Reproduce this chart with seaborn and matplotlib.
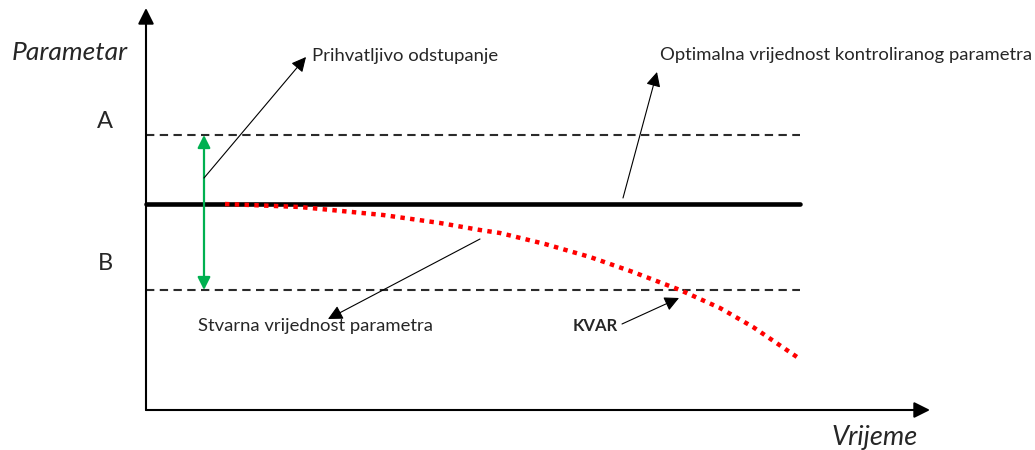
import numpy as np
import pandas as pd
import matplotlib
matplotlib.use("Agg")
import matplotlib.pyplot as plt
import seaborn as sns

# diagram data (pixel-like units, y grows downward)
origin = (146, 410)
x_end = 930
y_top = 8
level_a = 135
level_opt = 204
level_b = 290
line_end = 800

# real parameter value drifting away from optimum
curve_t = [225, 300, 383, 440, 480, 500, 545, 590, 633, 680, 720, 753, 797]
curve_v = [204, 207, 215, 223, 230, 233, 244, 257, 272, 290, 308, 327, 357]

label_font = ["Lato", "DejaVu Sans"]

sns.set_style("white")
plt.rcParams["font.family"] = label_font

fig = plt.figure(figsize=(10.35, 4.5), dpi=100)
ax = fig.add_axes([0, 0, 1, 1])
ax.set_xlim(0, 1035)
ax.set_ylim(450, 0)
ax.axis("off")

# limits A and B
limits = pd.DataFrame({"t": [origin[0], line_end], "a": [level_a, level_a], "b": [level_b, level_b]})
for col in ["a", "b"]:
    sns.lineplot(data=limits, x="t", y=col, ax=ax, color="#2b2b2b", lw=1.5,
                 linestyle=(0, (4, 2.6)))

# optimal value
opt = pd.DataFrame({"t": [origin[0], line_end], "v": [level_opt, level_opt]})
sns.lineplot(data=opt, x="t", y="v", ax=ax, color="black", lw=3.3)

# real value
curve = pd.DataFrame({"t": curve_t, "v": curve_v})
sns.lineplot(data=curve, x="t", y="v", ax=ax, color="#ff0000", lw=3.2,
             linestyle=(0, (1, 1.2)), sort=False)

# axes arrows
ax.annotate("", xy=(origin[0], y_top), xytext=origin,
            arrowprops=dict(arrowstyle="-|>", color="black", lw=1.5,
                            mutation_scale=24, shrinkA=0, shrinkB=0))
ax.annotate("", xy=(x_end, origin[1]), xytext=origin,
            arrowprops=dict(arrowstyle="-|>", color="black", lw=1.5,
                            mutation_scale=24, shrinkA=0, shrinkB=0))

# acceptable deviation
ax.annotate("", xy=(204, level_a), xytext=(204, level_b),
            arrowprops=dict(arrowstyle="<|-|>", color="#00B050", lw=1.6,
                            mutation_scale=19, shrinkA=0, shrinkB=0))

thin = dict(arrowstyle="-|>", color="black", lw=0.8, mutation_scale=22,
            shrinkA=0, shrinkB=0)
ax.annotate("", xy=(306, 57), xytext=(204, 178), arrowprops=thin)
ax.annotate("", xy=(657, 72), xytext=(623, 198), arrowprops=thin)
ax.annotate("", xy=(328, 319), xytext=(480, 239), arrowprops=thin)
ax.annotate("", xy=(679, 298), xytext=(622, 324), arrowprops=thin)

ax.text(312, 56, "Prihvatljivo odstupanje", fontsize=13.3, va="center", ha="left")
ax.text(660, 55, "Optimalna vrijednost kontroliranog parametra", fontsize=13.3,
        va="center", ha="left")
ax.text(198, 326, "Stvarna vrijednost parametra", fontsize=13.3, va="center", ha="left")
ax.text(573, 326, "KVAR", fontsize=12, fontweight="bold", va="center", ha="left")

ax.text(12, 52, "Parametar", fontsize=19, style="italic", va="center", ha="left")
ax.text(832, 438, "Vrijeme", fontsize=19.5, style="italic", va="center", ha="left")
ax.text(105, 122, "A", fontsize=17, va="center", ha="center")
ax.text(105, 263, "B", fontsize=17, va="center", ha="center")

fig.savefig("out.png", dpi=100)
